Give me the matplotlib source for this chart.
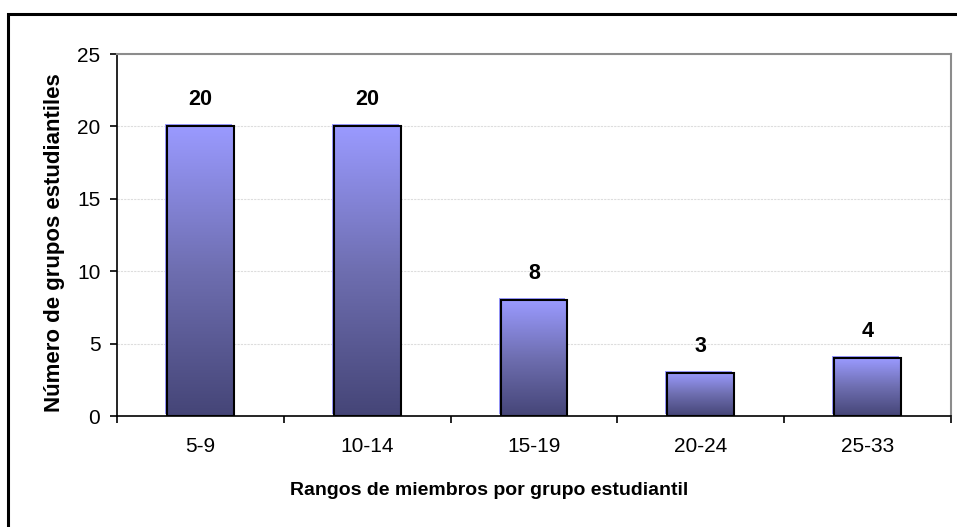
import matplotlib.pyplot as plt
import matplotlib.transforms as mtransforms
from matplotlib.colors import LinearSegmentedColormap
from matplotlib.patches import Rectangle
import numpy as np

plt.rcParams['font.family'] = ['Liberation Sans', 'DejaVu Sans']

# data
rangos = ["5-9", "10-14", "15-19", "20-24", "25-33"]
grupos = [20, 20, 8, 3, 4]
y_ticks = [0, 5, 10, 15, 20, 25]

bar_width = 0.4
grad = LinearSegmentedColormap.from_list("barras", ["#454577", "#6e6eb0", "#9a9aff"])

fig = plt.figure(figsize=(9.57, 5.27), dpi=100)
ax = fig.add_axes([117 / 957, 111 / 527, 834 / 957, 362 / 527])

x = np.arange(len(rangos))
ramp = np.linspace(0, 1, 256).reshape(-1, 1)
shift = mtransforms.offset_copy(ax.transData, fig=fig, x=-2, y=2, units='dots')
for xi, val in zip(x, grupos):
    left = xi - bar_width / 2
    # light offset edge behind the bar
    ax.add_patch(Rectangle((left, 0), bar_width, val, facecolor="#9a9aff",
                           edgecolor="none", transform=shift, zorder=2))
    ax.imshow(ramp, cmap=grad, origin='lower', aspect='auto',
              extent=[left, left + bar_width, 0, val], zorder=3)
    ax.add_patch(Rectangle((left, 0), bar_width, val, facecolor="none",
                           edgecolor="black", linewidth=1.5, zorder=4))
    ax.text(xi, val + 1.83, str(val), ha='center', va='center',
            fontsize=15.5, fontweight='bold', zorder=5)

ax.set_xlim(-0.5, len(rangos) - 0.5)
ax.set_ylim(0, 25)
ax.set_yticks(y_ticks)
ax.set_xticks(x)
ax.set_xticklabels(rangos)
ax.set_xticks(np.arange(-0.5, len(rangos)), minor=True)
ax.tick_params(axis='x', which='major', length=0, labelsize=15, pad=15)
ax.tick_params(axis='x', which='minor', length=5, width=1.2, direction='out')
ax.tick_params(axis='y', labelsize=15, length=5, width=1.2, direction='out', pad=7)

ax.grid(axis='y', color='#dddddd', linestyle=(0, (2, 1)), linewidth=0.8, zorder=0)
ax.set_axisbelow(True)

for side in ['top', 'right']:
    ax.spines[side].set_color('#8c8c8c')
    ax.spines[side].set_linewidth(1.5)
for side in ['left', 'bottom']:
    ax.spines[side].set_color('black')
    ax.spines[side].set_linewidth(1.2)

ax.set_xlabel("Rangos de miembros por grupo estudiantil", fontsize=14,
              fontweight='bold', va='center')
ax.xaxis.set_label_coords(0.446, -0.207)
ax.set_ylabel("Número de grupos estudiantiles", fontsize=16,
              fontweight='bold', va='center')
ax.yaxis.set_label_coords(-0.0755, 0.478)

# outer chart frame
fig.patches.append(Rectangle((8 / 957, -0.05), 1.2, 1 - 14 / 527 + 0.05,
                             transform=fig.transFigure, fill=False,
                             edgecolor='black', linewidth=2.2))

fig.savefig("out.png", dpi=100)
